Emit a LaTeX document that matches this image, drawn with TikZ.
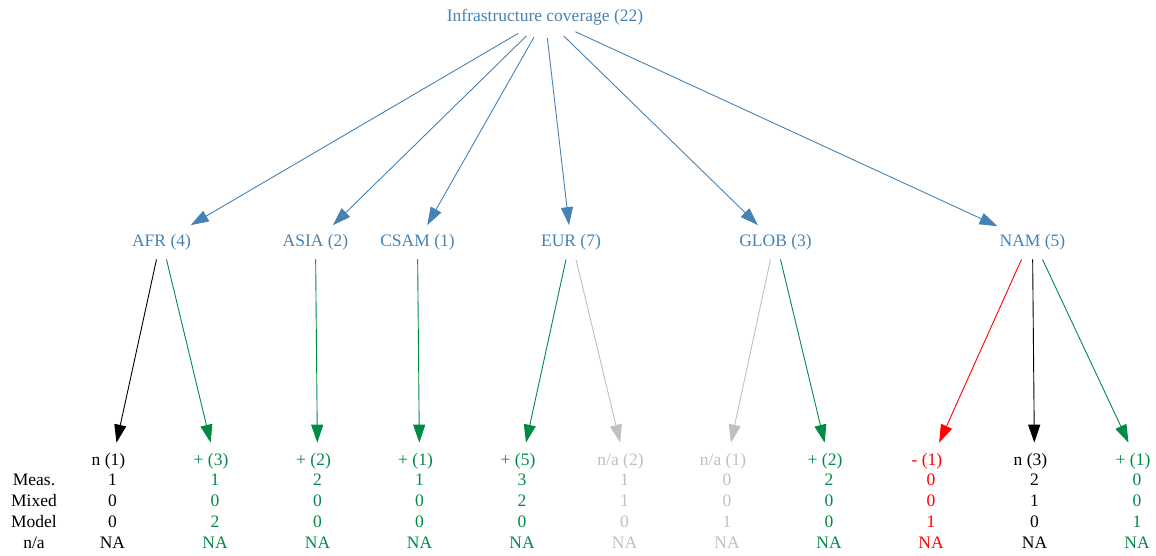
\documentclass[tikz,border=0pt]{standalone}
\usepackage{fontspec}
\setmainfont{Liberation Serif}
\usetikzlibrary{arrows.meta,calc,shapes.geometric}
\definecolor{cblue}{RGB}{70,130,180}
\definecolor{cgreen}{RGB}{0,139,69}
\definecolor{cgray}{RGB}{192,192,192}
\definecolor{cred}{RGB}{255,0,0}
\begin{document}
\begin{tikzpicture}[x=1pt,y=-1pt,
  font=\fontsize{17.5}{21}\selectfont,
  lbl/.style={inner xsep=2pt, inner ysep=9pt, anchor=base, text=cblue},
  rootbox/.style={ellipse, inner sep=0pt, minimum width=84pt, minimum height=40pt, anchor=base, text=cblue},
  hdr/.style={inner xsep=2pt, inner ysep=10pt, anchor=base},
  vals/.style={inner sep=0pt, anchor=south, align=center},
  edge/.style={line width=0.9pt, -{Triangle[length=18pt,width=12pt]}},
]
\useasboundingbox (0,0) rectangle (1156,556);

% level 1 and 2
\node[rootbox] (root) at (545,22) {\makebox[0pt]{Infrastructure coverage (22)}};
\node[lbl] (afr)  at (161.5,246.5) {AFR (4)};
\node[lbl] (asia) at (315.5,246.5) {ASIA (2)};
\node[lbl] (csam) at (417.5,246.5) {CSAM (1)};
\node[lbl] (eur)  at (571,246.5) {EUR (7)};
\node[lbl] (glob) at (775.5,246.5) {GLOB (3)};
\node[lbl] (nam)  at (1032.5,246.5) {NAM (5)};

% headers
\node[hdr, text=black]  (h1)  at (112.5,465) {n (1)\kern8pt};
\node[hdr, text=cgreen] (h2)  at (215,465)   {+ (3)\kern8pt};
\node[hdr, text=cgreen] (h3)  at (317.5,465) {+ (2)\kern8pt};
\node[hdr, text=cgreen] (h4)  at (419.5,465) {+ (1)\kern8pt};
\node[hdr, text=cgreen] (h5)  at (522,465)   {+ (5)\kern8pt};
\node[hdr, text=cgray]  (h6)  at (624.5,465) {n/a (2)\kern8pt};
\node[hdr, text=cgray]  (h7)  at (727,465)   {n/a (1)\kern8pt};
\node[hdr, text=cgreen] (h8)  at (829,465)   {+ (2)\kern8pt};
\node[hdr, text=cred]   (h9)  at (931,465)   {- (1)\kern8pt};
\node[hdr, text=black]  (h10) at (1034.5,465) {n (3)\kern8pt};
\node[hdr, text=cgreen] (h11) at (1137,465)  {+ (1)\kern8pt};

% values
\node[vals, text=black]  (rows) at (34,549) {Meas.\\Mixed\\Model\\n/a};
\node[vals, text=black]  (v1)  at (112.5,549) {1\\0\\0\\NA};
\node[vals, text=cgreen] (v2)  at (215,549)   {1\\0\\2\\NA};
\node[vals, text=cgreen] (v3)  at (317.5,549) {2\\0\\0\\NA};
\node[vals, text=cgreen] (v4)  at (419.5,549) {1\\0\\0\\NA};
\node[vals, text=cgreen] (v5)  at (522,549)   {3\\2\\0\\NA};
\node[vals, text=cgray]  (v6)  at (624.5,549) {1\\1\\0\\NA};
\node[vals, text=cgray]  (v7)  at (727,549)   {0\\0\\1\\NA};
\node[vals, text=cgreen] (v8)  at (829,549)   {2\\0\\0\\NA};
\node[vals, text=cred]   (v9)  at (931,549)   {0\\0\\1\\NA};
\node[vals, text=black]  (v10) at (1034.5,549) {2\\1\\0\\NA};
\node[vals, text=cgreen] (v11) at (1137,549)  {0\\0\\1\\NA};

% root edges
\foreach \t in {afr,asia,csam,eur,glob,nam}
  \draw[edge, cblue] (root) -- (\t);

% region edges
\draw[edge, black]  ($(afr.south)+(-5,0)$) -- (h1);
\draw[edge, cgreen] ($(afr.south)+(5,0)$) -- (h2);
\draw[edge, cgreen] (asia) -- (h3);
\draw[edge, cgreen] (csam) -- (h4);
\draw[edge, cgreen] ($(eur.south)+(-5,0)$) -- (h5);
\draw[edge, cgray]  ($(eur.south)+(5,0)$) -- (h6);
\draw[edge, cgray]  ($(glob.south)+(-5,0)$) -- (h7);
\draw[edge, cgreen] ($(glob.south)+(5,0)$) -- (h8);
\draw[edge, cred]   ($(nam.south)+(-11,0)$) -- (h9);
\draw[edge, black]  (nam) -- (h10);
\draw[edge, cgreen] ($(nam.south)+(10,0)$) -- (h11);
\end{tikzpicture}
\end{document}
